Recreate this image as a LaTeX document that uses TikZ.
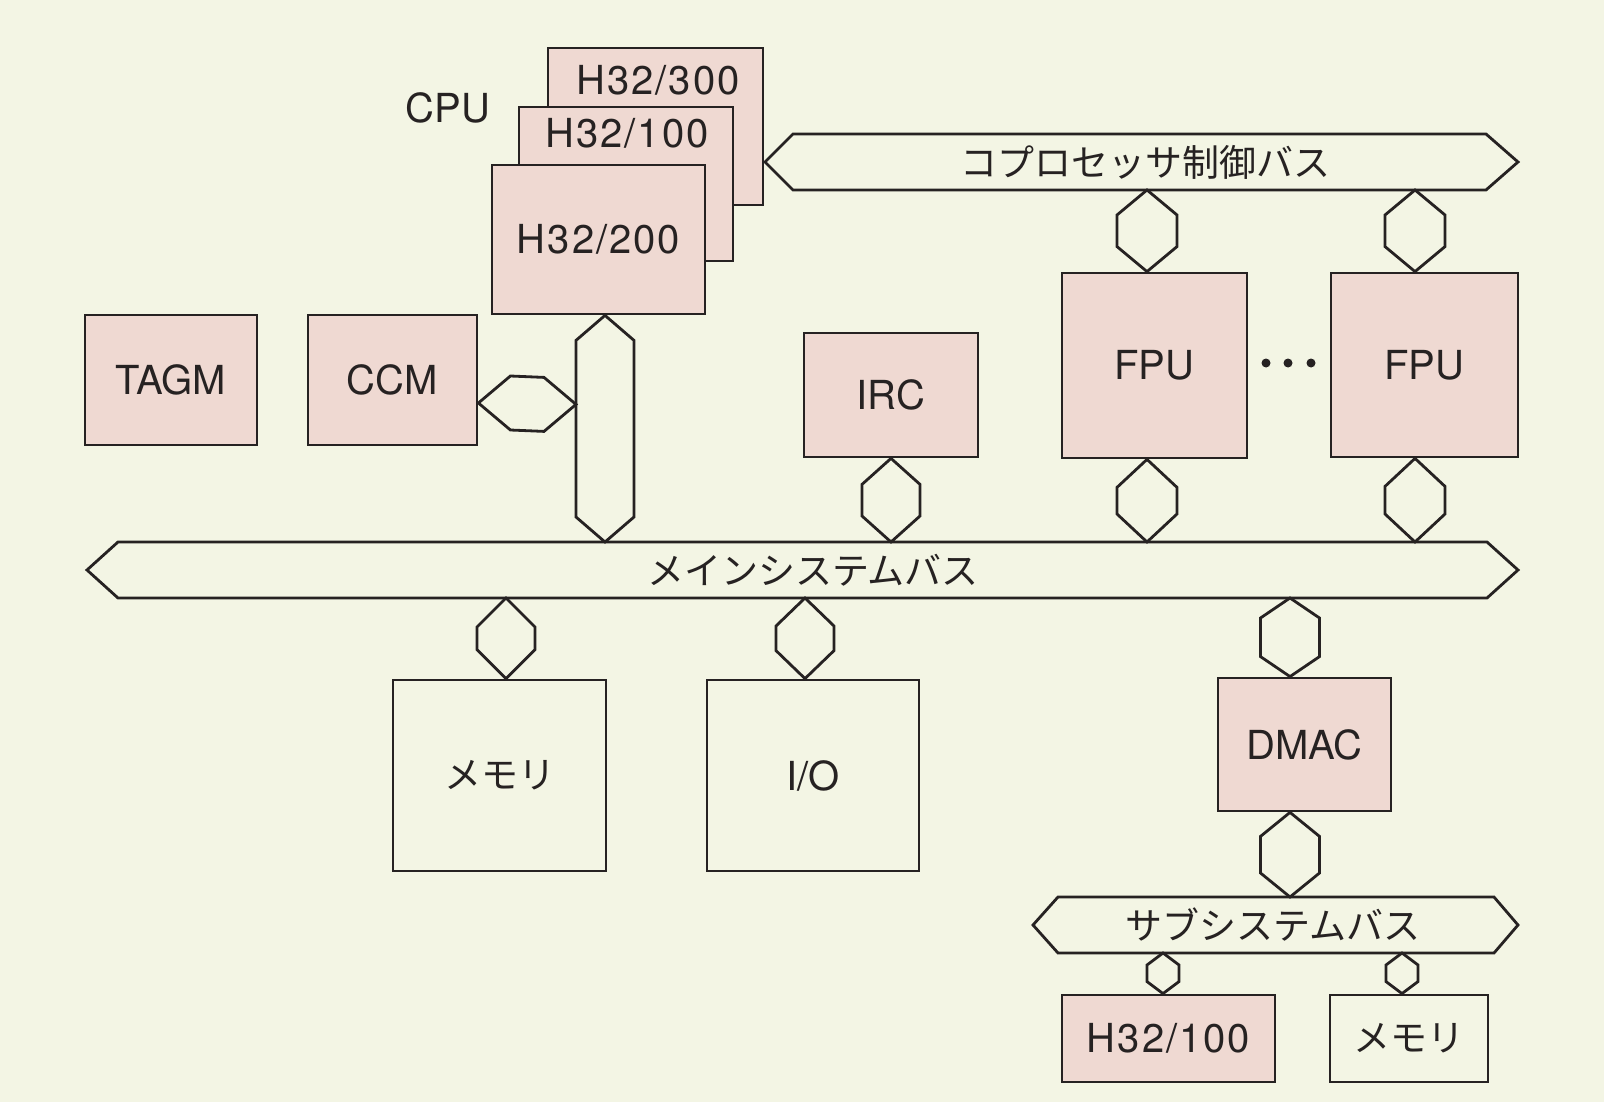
\documentclass[tikz,border=0pt]{standalone}
\usepackage{fontspec}
\setmainfont{TeX Gyre Heros}
\newfontfamily\jpfont{Noto Sans CJK JP}
\newfontfamily\hfont[LetterSpace=5]{TeX Gyre Heros}
\usetikzlibrary{calc}
\definecolor{bg}{HTML}{F3F5E4}
\definecolor{pinkfill}{HTML}{EFD9D2}
\definecolor{ink}{HTML}{262222}
\tikzset{
  link/.style={draw=ink, line width=2.8pt, line join=miter, fill=bg},
  pbox/.style={draw=ink, line width=2.8pt, fill=pinkfill, inner sep=0pt, text=ink,
               font=\fontsize{40}{48}\selectfont},
  wbox/.style={pbox, fill=bg},
  lat/.style={text=ink, inner sep=0pt, font=\fontsize{40}{48}\selectfont},
  hlab/.style={font=\hfont\fontsize{40}{48}\selectfont},
  jp/.style={text=ink, inner sep=0pt, font=\jpfont\fontsize{37}{44}\selectfont},
}
% vertical link: top point #1, bottom point #2, half width #3, shoulder #4
\newcommand\vlink[4]{\draw[link] (#1) -- ($(#1)+(#3,#4)$) -- ($(#2)+(#3,-#4)$) -- (#2)
  -- ($(#2)+(-#3,-#4)$) -- ($(#1)+(-#3,#4)$) -- cycle;}
% horizontal link: left point #1, right point #2, shoulder #3, half height #4
\newcommand\hlink[4]{\draw[link] (#1) -- ($(#1)+(#3,-#4)$) -- ($(#2)+(-#3,-#4)$) -- (#2)
  -- ($(#2)+(-#3,#4)$) -- ($(#1)+(#3,#4)$) -- cycle;}
\begin{document}
\begin{tikzpicture}[x=1pt,y=-1pt]
\fill[bg] (0,0) rectangle (1604,1102);
\useasboundingbox (0,0) rectangle (1604,1102);

% ---------- buses ----------
\draw[link] (765,162) -- (793,134) -- (1486,134) -- (1518,162) -- (1486,190) -- (793,190) -- cycle;
\node[jp] (cbus) at (1145,162) {コプロセッサ制御バス};
\draw[link] (87,570) -- (118,542) -- (1487,542) -- (1518,570) -- (1487,598) -- (118,598) -- cycle;
\node[jp] (mbus) at (813,570) {メインシステムバス};
\draw[link] (1033,925) -- (1058,897) -- (1494,897) -- (1518,925) -- (1494,953) -- (1058,953) -- cycle;
\node[jp] (sbus) at (1273,925) {サブシステムバス};
\coordinate (cbB) at (0,190);
\coordinate (mbT) at (0,542);
\coordinate (mbB) at (0,598);
\coordinate (sbT) at (0,897);
\coordinate (sbB) at (0,953);

% ---------- CPU stack ----------
\node[pbox, minimum width=215pt, minimum height=157pt] (h300) at (655.5,126.5) {};
\node[lat, hlab] (t300) at (658,80) {H32/300};
\node[pbox, minimum width=214pt, minimum height=154pt] (h100) at (626,184) {};
\node[lat, hlab] (t100) at (627,133) {H32/100};
\node[pbox, hlab, minimum width=213pt, minimum height=149pt] (h200) at (598.5,239.5) {H32/200};
\node[lat] (cpu) at (448,108) {CPU};

% ---------- boxes ----------
\node[pbox, minimum width=172pt, minimum height=130pt] (tagm) at (171,380) {TAGM};
\node[pbox, minimum width=169pt, minimum height=130pt] (ccm) at (392.5,380) {CCM};
\node[pbox, minimum width=174pt, minimum height=124pt] (irc) at (891,395) {IRC};
\node[pbox, minimum width=185pt, minimum height=185pt] (fpuA) at (1154.5,365.5) {FPU};
\node[pbox, minimum width=187pt, minimum height=184pt] (fpuB) at (1424.5,365) {FPU};
\node[wbox, minimum width=213pt, minimum height=191pt, font=\jpfont\fontsize{37}{44}\selectfont] (mem) at (499.5,775.5) {メモリ};
\node[wbox, minimum width=212pt, minimum height=191pt] (io) at (813,775.5) {I/O};
\node[pbox, minimum width=173pt, minimum height=133pt] (dmac) at (1304.5,744.5) {DMAC};
\node[pbox, hlab, minimum width=213pt, minimum height=87pt] (sh100) at (1168.5,1038.5) {H32/100};
\node[wbox, minimum width=158pt, minimum height=87pt, font=\jpfont\fontsize{37}{44}\selectfont] (smem) at (1409,1038.5) {メモリ};

\fill[ink] (1266,363) circle (4.5pt) (1288,363) circle (4.5pt) (1311,363) circle (4.5pt);

% ---------- links ----------
\coordinate (cpuT) at ($(h200.south)+(6.5,0)$);
\coordinate (cpuB) at (cpuT |- mbT);
\vlink{cpuT}{cpuB}{29}{25}
\coordinate (ccmR) at ($(ccm.east)+(0,23)$);
\coordinate (ccmL) at ($(cpuT)+(-29,89)$);
\hlink{ccmR}{ccmL}{32}{27}

\coordinate (ircT) at (irc.south);
\coordinate (ircB) at (ircT |- mbT);
\vlink{ircT}{ircB}{29}{26}

\coordinate (faU1) at ($(fpuA.north)+(-7.5,0)$);
\coordinate (faU0) at (faU1 |- cbB);
\vlink{faU0}{faU1}{30}{25}
\coordinate (faL0) at ($(fpuA.south)+(-7.5,0)$);
\coordinate (faL1) at (faL0 |- mbT);
\vlink{faL0}{faL1}{30}{28}

\coordinate (fbU1) at ($(fpuB.north)+(-9.5,0)$);
\coordinate (fbU0) at (fbU1 |- cbB);
\vlink{fbU0}{fbU1}{30}{25}
\coordinate (fbL0) at ($(fpuB.south)+(-9.5,0)$);
\coordinate (fbL1) at (fbL0 |- mbT);
\vlink{fbL0}{fbL1}{30}{28}

\coordinate (memT) at ($(mem.north)+(6.5,0)$);
\coordinate (memB) at (memT |- mbB);
\vlink{memB}{memT}{29}{29}

\coordinate (ioT) at ($(io.north)+(-8,0)$);
\coordinate (ioB) at (ioT |- mbB);
\vlink{ioB}{ioT}{29}{28}

\coordinate (dmT) at ($(dmac.north)+(-14.5,0)$);
\coordinate (dmU) at (dmT |- mbB);
\vlink{dmU}{dmT}{29.5}{20}
\coordinate (dmS) at ($(dmac.south)+(-14.5,0)$);
\coordinate (dmSb) at (dmS |- sbT);
\vlink{dmS}{dmSb}{29.5}{24}

\coordinate (shT) at ($(sh100.north)+(-5.5,0)$);
\coordinate (shB) at (shT |- sbB);
\vlink{shB}{shT}{16}{12}
\coordinate (smT) at ($(smem.north)+(-7,0)$);
\coordinate (smB) at (smT |- sbB);
\vlink{smB}{smT}{16}{12}
\end{tikzpicture}
\end{document}
